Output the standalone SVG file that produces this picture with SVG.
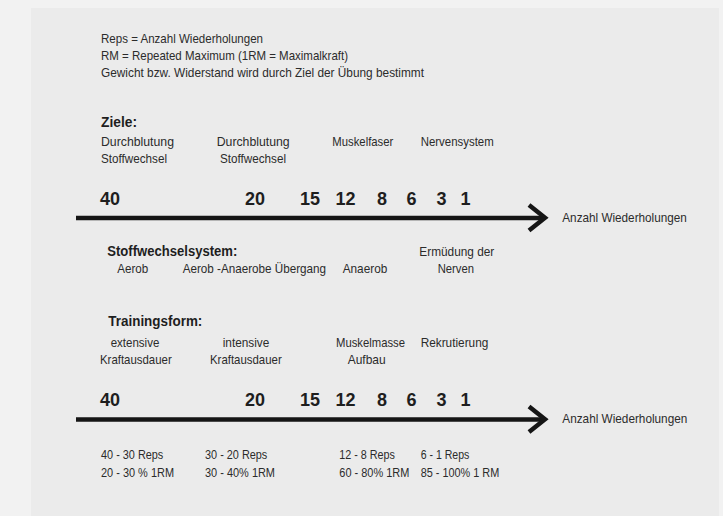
<svg xmlns="http://www.w3.org/2000/svg" width="723" height="516" viewBox="0 0 723 516">
<defs>
<style>
.t{font-family:"Liberation Sans",Arial,sans-serif;font-size:13px;fill:#2b2b2b}
.h{font-family:"Liberation Sans",Arial,sans-serif;font-size:14.5px;font-weight:bold;fill:#1e1e1e}
.n{font-family:"Liberation Sans",Arial,sans-serif;font-size:18px;font-weight:bold;fill:#1e1e1e}
.ax{fill:none;stroke:#151515;stroke-width:4.5}
.hd{fill:none;stroke:#151515;stroke-width:4.5;stroke-linejoin:miter;stroke-miterlimit:6}
</style>
</defs>
<rect x="0" y="0" width="723" height="516" fill="#f2f2f2"/>
<rect x="31" y="8" width="688" height="508" fill="#ebebeb"/>

<g id="legend">
<text class="t" x="101" y="42.5" textLength="162" lengthAdjust="spacingAndGlyphs">Reps = Anzahl Wiederholungen</text>
<text class="t" x="101" y="60" textLength="247" lengthAdjust="spacingAndGlyphs">RM = Repeated Maximum (1RM = Maximalkraft)</text>
<text class="t" x="101" y="77" textLength="323" lengthAdjust="spacingAndGlyphs">Gewicht bzw. Widerstand wird durch Ziel der Übung bestimmt</text>
</g>

<g id="ziele">
<text class="h" x="101" y="127" textLength="36" lengthAdjust="spacingAndGlyphs">Ziele:</text>
<text class="t" x="101" y="146" textLength="73" lengthAdjust="spacingAndGlyphs">Durchblutung</text>
<text class="t" x="101" y="163" textLength="66" lengthAdjust="spacingAndGlyphs">Stoffwechsel</text>
<text class="t" x="216.7" y="146" textLength="73" lengthAdjust="spacingAndGlyphs">Durchblutung</text>
<text class="t" x="220" y="163" textLength="66" lengthAdjust="spacingAndGlyphs">Stoffwechsel</text>
<text class="t" x="332.3" y="146" textLength="61" lengthAdjust="spacingAndGlyphs">Muskelfaser</text>
<text class="t" x="420.7" y="146" textLength="73" lengthAdjust="spacingAndGlyphs">Nervensystem</text>
</g>

<g id="scale1">
<text class="n" x="100" y="205">40</text>
<text class="n" x="245" y="205">20</text>
<text class="n" x="300" y="205">15</text>
<text class="n" x="335.5" y="205">12</text>
<text class="n" x="377" y="205">8</text>
<text class="n" x="406.5" y="205">6</text>
<text class="n" x="436.5" y="205">3</text>
<text class="n" x="460.5" y="205">1</text>
<text class="t" x="562.3" y="221.5" textLength="124.5" lengthAdjust="spacingAndGlyphs">Anzahl Wiederholungen</text>
</g>

<g id="stoffwechselsystem">
<text class="h" x="107.3" y="256" textLength="130" lengthAdjust="spacingAndGlyphs">Stoffwechselsystem:</text>
<text class="t" x="117.3" y="273" textLength="31" lengthAdjust="spacingAndGlyphs">Aerob</text>
<text class="t" x="182.7" y="273" textLength="143.3" lengthAdjust="spacingAndGlyphs">Aerob -Anaerobe Übergang</text>
<text class="t" x="342.7" y="273" textLength="44.6" lengthAdjust="spacingAndGlyphs">Anaerob</text>
<text class="t" x="419.3" y="255.5" textLength="75" lengthAdjust="spacingAndGlyphs">Ermüdung der</text>
<text class="t" x="437.7" y="273" textLength="36.3" lengthAdjust="spacingAndGlyphs">Nerven</text>
</g>

<g id="trainingsform">
<text class="h" x="108.3" y="326" textLength="94" lengthAdjust="spacingAndGlyphs">Trainingsform:</text>
<text class="t" x="110.7" y="347" textLength="48.6" lengthAdjust="spacingAndGlyphs">extensive</text>
<text class="t" x="100" y="364" textLength="71.7" lengthAdjust="spacingAndGlyphs">Kraftausdauer</text>
<text class="t" x="222.7" y="347" textLength="46.6" lengthAdjust="spacingAndGlyphs">intensive</text>
<text class="t" x="210" y="364" textLength="71.7" lengthAdjust="spacingAndGlyphs">Kraftausdauer</text>
<text class="t" x="336" y="347" textLength="69" lengthAdjust="spacingAndGlyphs">Muskelmasse</text>
<text class="t" x="347.7" y="364" textLength="38" lengthAdjust="spacingAndGlyphs">Aufbau</text>
<text class="t" x="420.7" y="347" textLength="67.6" lengthAdjust="spacingAndGlyphs">Rekrutierung</text>
</g>

<g id="scale2">
<text class="n" x="100" y="406">40</text>
<text class="n" x="245" y="406">20</text>
<text class="n" x="300" y="406">15</text>
<text class="n" x="335.5" y="406">12</text>
<text class="n" x="377" y="406">8</text>
<text class="n" x="406.5" y="406">6</text>
<text class="n" x="436.5" y="406">3</text>
<text class="n" x="460.5" y="406">1</text>
<text class="t" x="562.3" y="422.5" textLength="125" lengthAdjust="spacingAndGlyphs">Anzahl Wiederholungen</text>
</g>

<g id="belastung">
<text class="t" x="101" y="459" textLength="62.3" lengthAdjust="spacingAndGlyphs">40 - 30 Reps</text>
<text class="t" x="101" y="477" textLength="73" lengthAdjust="spacingAndGlyphs">20 - 30 % 1RM</text>
<text class="t" x="205" y="459" textLength="62.3" lengthAdjust="spacingAndGlyphs">30 - 20 Reps</text>
<text class="t" x="205" y="477" textLength="70" lengthAdjust="spacingAndGlyphs">30 - 40% 1RM</text>
<text class="t" x="339.3" y="458.5" textLength="55.7" lengthAdjust="spacingAndGlyphs">12 - 8 Reps</text>
<text class="t" x="339.3" y="476.5" textLength="70" lengthAdjust="spacingAndGlyphs">60 - 80% 1RM</text>
<text class="t" x="420.7" y="458.5" textLength="48.6" lengthAdjust="spacingAndGlyphs">6 - 1 Reps</text>
<text class="t" x="420.7" y="476.5" textLength="78.6" lengthAdjust="spacingAndGlyphs">85 - 100% 1 RM</text>
</g>

<g id="connectors">
<line class="ax" x1="76" y1="218" x2="543" y2="218"/>
<polyline class="hd" points="529,205 545,217.8 529,230.5"/>
<line class="ax" x1="76" y1="419.5" x2="543" y2="419.5"/>
<polyline class="hd" points="529,406.5 545,419.3 529,432"/>
</g>
</svg>
